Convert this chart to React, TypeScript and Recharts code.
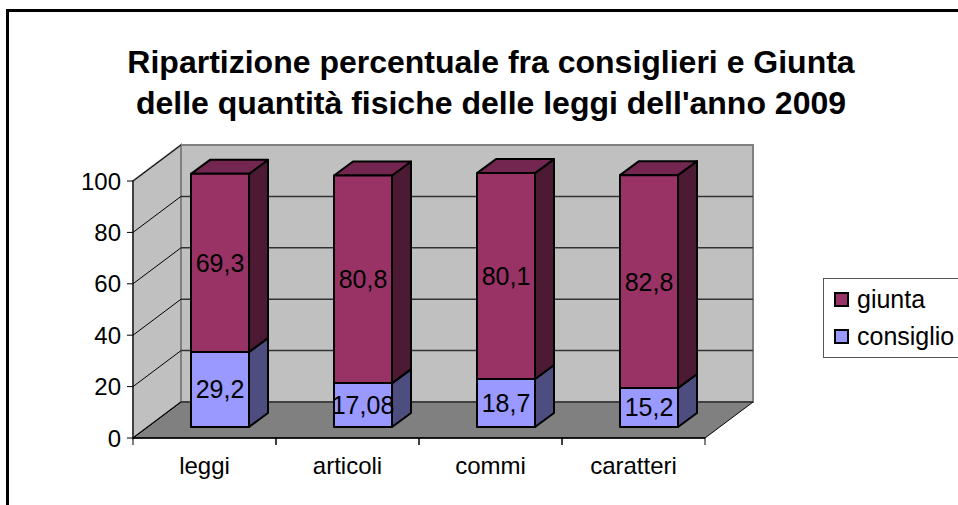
import { Bar, BarChart, LabelList, Legend, ReferenceArea, ReferenceLine, XAxis, YAxis } from 'recharts';

const categories = ['leggi', 'articoli', 'commi', 'caratteri'];
const consiglioValues = [29.2, 17.08, 18.7, 15.2];
const giuntaValues = [69.3, 80.8, 80.1, 82.8];
const yTicks = [0, 20, 40, 60, 80, 100];

const titleLines = [
    'Ripartizione percentuale fra consiglieri e Giunta',
    "delle quantità fisiche delle leggi dell'anno 2009",
];

const data = categories.map((name, i) => ({
    name,
    consiglio: consiglioValues[i],
    giunta: giuntaValues[i],
}));

const font = 'Arial, "Liberation Sans", sans-serif';

// 3D look: wall depth, bar placement inside the depth, bar thickness
const depth = { dx: 48, dy: -36 };
const barShift = { dx: 15, dy: -11 };
const barDepth = { dx: 19, dy: -14 };

const colors = {
    giunta: { front: '#993366', top: '#732650', side: '#4d1a33' },
    consiglio: { front: '#9999ff', top: '#7373bf', side: '#4d4d80' },
};

const makeBox = (c: { front: string; top: string; side: string }) => (props: any) => {
    const { x, y, width, height } = props;
    if (width == null || height == null) return <g />;
    const x0 = x + barShift.dx;
    const y0 = y + barShift.dy;
    const x1 = x0 + width;
    const y1 = y0 + height;
    const { dx, dy } = barDepth;
    return (
        <g stroke="#000" strokeWidth={2} strokeLinejoin="round">
            <polygon
                points={`${x1},${y0} ${x1 + dx},${y0 + dy} ${x1 + dx},${y1 + dy} ${x1},${y1}`}
                fill={c.side}
            />
            <polygon
                points={`${x0},${y0} ${x0 + dx},${y0 + dy} ${x1 + dx},${y0 + dy} ${x1},${y0}`}
                fill={c.top}
            />
            <rect x={x0} y={y0} width={width} height={height} fill={c.front} />
        </g>
    );
};

const BoxLabel = (props: any) => {
    const box = props.viewBox ?? props;
    const { x, y, width, height } = box;
    return (
        <text
            x={x + width / 2 + barShift.dx}
            y={y + height / 2 + barShift.dy}
            textAnchor="middle"
            dominantBaseline="central"
            fontSize={25}
            fontFamily={font}
            fill="#000"
        >
            {String(props.value).replace('.', ',')}
        </text>
    );
};

const Walls = (props: any) => {
    const { x, y, width, height } = props;
    const { dx, dy } = depth;
    const b = y + height;
    const r = x + width;
    return (
        <g>
            <polygon
                points={`${x},${y} ${x + dx},${y + dy} ${x + dx},${b + dy} ${x},${b}`}
                fill="#c0c0c0"
                stroke="#808080"
                strokeWidth={2}
            />
            <rect x={x + dx} y={y + dy} width={width} height={height} fill="#c0c0c0" stroke="#808080" strokeWidth={2} />
            <polygon
                points={`${x},${b} ${r},${b} ${r + dx},${b + dy} ${x + dx},${b + dy}`}
                fill="#808080"
                stroke="#000"
                strokeWidth={1}
            />
        </g>
    );
};

const makeGridLine = (v: number) => (props: any) => {
    const { x1, y1, x2 } = props;
    const { dx, dy } = depth;
    const inner = v > 0 && v < 100;
    return (
        <g>
            <line x1={x1} y1={y1} x2={x1 + dx} y2={y1 + dy} stroke="#000" strokeWidth={1} />
            {inner && (
                <line x1={x1 + dx} y1={y1 + dy} x2={x2 + dx} y2={y1 + dy} stroke="#333" strokeWidth={1.5} />
            )}
        </g>
    );
};

const CategoryTick = (props: any) => {
    const { x, y, payload } = props;
    const half = payload?.offset || 71.5;
    return (
        <g>
            <line x1={x - half} y1={y} x2={x - half} y2={y + 7} stroke="#000" />
            <line x1={x + half} y1={y} x2={x + half} y2={y + 7} stroke="#000" />
            <text x={x} y={y + 36} textAnchor="middle" fontSize={24} fontFamily={font} fill="#000">
                {payload.value}
            </text>
        </g>
    );
};

const LegendBox = (props: any) => {
    const items = [...(props.payload ?? [])].reverse();
    return (
        <div
            style={{
                border: '1.5px solid #555',
                background: '#fff',
                padding: '2px 10px',
                width: 200,
                boxSizing: 'border-box',
                fontFamily: font,
                fontSize: 25,
            }}
        >
            {items.map((item: any) => (
                <div key={item.value} style={{ display: 'flex', alignItems: 'center', height: 37 }}>
                    <span
                        style={{
                            width: 11,
                            height: 11,
                            border: '2px solid #000',
                            background: item.color,
                            marginRight: 8,
                            display: 'inline-block',
                        }}
                    />
                    <span>{item.value}</span>
                </div>
            ))}
        </div>
    );
};

export default function App() {
    return (
        <div
            style={{
                position: 'absolute',
                left: 0,
                top: 0,
                width: 958,
                height: 505,
                overflow: 'hidden',
                background: '#fff',
                fontFamily: font,
            }}
        >
            <div
                style={{
                    position: 'absolute',
                    left: 6,
                    top: 9,
                    width: 1100,
                    height: 700,
                    border: '3px solid #000',
                    boxSizing: 'border-box',
                }}
            />
            <div
                style={{
                    position: 'absolute',
                    left: 0,
                    top: 42,
                    width: 982,
                    textAlign: 'center',
                    fontWeight: 'bold',
                    fontSize: 32,
                    lineHeight: '41px',
                    color: '#000',
                }}
            >
                {titleLines.map((line) => (
                    <div key={line}>{line}</div>
                ))}
            </div>
            <div style={{ position: 'absolute', left: 0, top: 0 }}>
                <BarChart
                    width={958}
                    height={505}
                    data={data}
                    barSize={58}
                    margin={{ top: 181, right: 253, bottom: 37, left: 73 }}
                >
                    <XAxis
                        dataKey="name"
                        height={30}
                        tickSize={0}
                        tickMargin={0}
                        axisLine={{ stroke: '#000', strokeWidth: 1.5 }}
                        tick={<CategoryTick />}
                        interval={0}
                    />
                    <YAxis
                        width={60}
                        domain={[0, 100]}
                        ticks={yTicks}
                        tickSize={6}
                        tickMargin={6}
                        axisLine={{ stroke: '#000' }}
                        tickLine={{ stroke: '#000' }}
                        tick={{ fill: '#000', fontSize: 24, fontFamily: font }}
                    />
                    <ReferenceArea y1={0} y2={100} shape={<Walls />} ifOverflow="visible" zIndex={-300} />
                    {yTicks.map((v) => (
                        <ReferenceLine key={v} y={v} shape={makeGridLine(v)} ifOverflow="visible" zIndex={-200} />
                    ))}
                    <Legend
                        layout="vertical"
                        align="center"
                        verticalAlign="middle"
                        wrapperStyle={{ position: 'absolute', left: 823, top: 278, width: 200 }}
                        content={<LegendBox />}
                    />
                    <Bar
                        dataKey="consiglio"
                        name="consiglio"
                        stackId="a"
                        fill={colors.consiglio.front}
                        shape={makeBox(colors.consiglio)}
                        isAnimationActive={false}
                    >
                        <LabelList dataKey="consiglio" content={<BoxLabel />} />
                    </Bar>
                    <Bar
                        dataKey="giunta"
                        name="giunta"
                        stackId="a"
                        fill={colors.giunta.front}
                        shape={makeBox(colors.giunta)}
                        isAnimationActive={false}
                    >
                        <LabelList dataKey="giunta" content={<BoxLabel />} />
                    </Bar>
                </BarChart>
            </div>
        </div>
    );
}
